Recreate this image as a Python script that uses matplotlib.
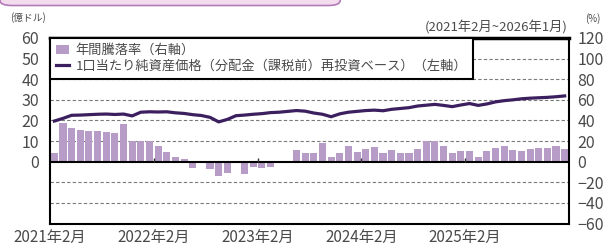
import numpy as np
import matplotlib
matplotlib.use('Agg')
import matplotlib.pyplot as plt
from matplotlib.patches import Patch, FancyBboxPatch
from matplotlib.lines import Line2D

plt.rcParams['font.family'] = ['Noto Sans CJK JP', 'DejaVu Sans']

# 年間騰落率 (%), 2021年2月 ~ 2026年1月
yoy = [8, 38, 33, 31, 30, 29.5, 29, 28, 37, 20,
       20, 20, 15, 9, 4.5, 2.6, -6, 0, -7, -14,
       -11, 0, -12, -5, -6, -5, 0, -1, 11, 8.5,
       8.5, 18, 4.5, 8.5, 15, 9, 12.5, 14, 8, 11,
       8, 8.5, 12.5, 20, 20, 15, 8, 10, 10, 4.5,
       10, 13, 15, 11, 10, 12, 13, 13, 15, 12.5]
# 1口当たり純資産価格 (億ドル)
nav = [19.7, 21.0, 22.5, 22.6, 22.8, 23.0, 23.1, 22.9, 23.1, 22.2,
       24.0, 24.2, 24.1, 24.2, 23.7, 23.4, 22.8, 22.4, 21.5, 19.3,
       20.5, 22.3, 22.6, 23.0, 23.3, 23.8, 24.0, 24.4, 24.8, 24.5,
       23.6, 23.0, 21.8, 23.2, 24.0, 24.4, 24.8, 25.0, 24.7, 25.4,
       25.8, 26.2, 27.0, 27.4, 27.8, 27.3, 26.7, 27.5, 28.2, 27.3,
       28.0, 29.0, 29.6, 30.0, 30.5, 30.8, 31.0, 31.2, 31.5, 31.9]
xlabels = ['2021年2月', '2022年2月', '2023年2月', '2024年2月', '2025年2月']

txt = '#4a4a4a'
bar_c = '#b89cc8'
line_c = '#3b1f5e'

fig = plt.figure(figsize=(6.13, 2.5), dpi=100)
fig.patch.set_facecolor('white')
W, H = 613, 250

# title band at top (cut off)
fig.patches.append(FancyBboxPatch((0.0, 0.978), 0.555, 0.08, boxstyle='round,pad=0,rounding_size=0.02',
                                  transform=fig.transFigure, facecolor='#f4dcef', edgecolor='#b27ab8', lw=1.2))

ax = fig.add_axes([50 / W, 26.5 / H, 519 / W, 185.5 / H])
ax2 = ax.twinx()

x = np.arange(len(yoy)) + 0.5
ax.set_xlim(0, 60)
ax.set_ylim(-60, 120)
for y in [-40, -20, 20, 40, 60, 80, 100]:
    ax.axhline(y, ls=(0, (3, 2)), color='#7a7a7a', lw=0.8, zorder=0)
ax.bar(x, yoy, width=0.82, color=bar_c, zorder=2)
ax.axhline(0, color='black', lw=1.5, zorder=3)
ax.vlines([12, 24, 36, 48], 0, 4, color='#333333', lw=1, zorder=3)
ax.yaxis.tick_right()
ax.set_yticks(np.arange(-60, 121, 20))
ax.tick_params(axis='y', length=0, pad=6, labelsize=11.5, labelcolor=txt)
ax.set_xticks([0, 12, 24, 36, 48])
ax.set_xticklabels(xlabels)
ax.tick_params(axis='x', length=0, pad=4, labelsize=11, labelcolor=txt)
for s in ax.spines.values():
    s.set_linewidth(1.5)
ax.spines['top'].set_linewidth(2.5)

ax2.set_ylim(-30, 60)
ax2.yaxis.tick_left()
ax2.set_yticks(np.arange(0, 61, 10))
ax2.tick_params(axis='y', length=0, pad=8, labelsize=11.5, labelcolor=txt)
ax2.plot(x, nav, color=line_c, lw=2.3, zorder=4)
for s in ax2.spines.values():
    s.set_visible(False)

handles = [Patch(facecolor=bar_c, edgecolor='none'),
           Line2D([0], [0], color=line_c, lw=2.3)]
labels = ['年間騰落率（右軸）', '1口当たり純資産価格（分配金（課税前）再投資ベース）（左軸）']
leg = ax2.legend(handles, labels, loc='upper left', bbox_to_anchor=(0, 1), borderaxespad=0,
                 fontsize=9.5, frameon=True, fancybox=False, framealpha=1, edgecolor='black',
                 handlelength=1.0, handletextpad=0.5, labelspacing=0.2, borderpad=0.45)
leg.get_frame().set_linewidth(1.5)
for t in leg.get_texts():
    t.set_color(txt)
leg.set_zorder(10)

fig.text(28 / W, 1 - 18 / H, '(億ドル)', fontsize=7, color=txt, ha='center', va='center')
fig.text(593 / W, 1 - 19 / H, '(%)', fontsize=7, color=txt, ha='center', va='center')
fig.text(568 / W, 1 - 28 / H, '(2021年2月~2026年1月)', fontsize=9.5, color=txt, ha='right', va='center')

fig.savefig('out.png', dpi=100)
